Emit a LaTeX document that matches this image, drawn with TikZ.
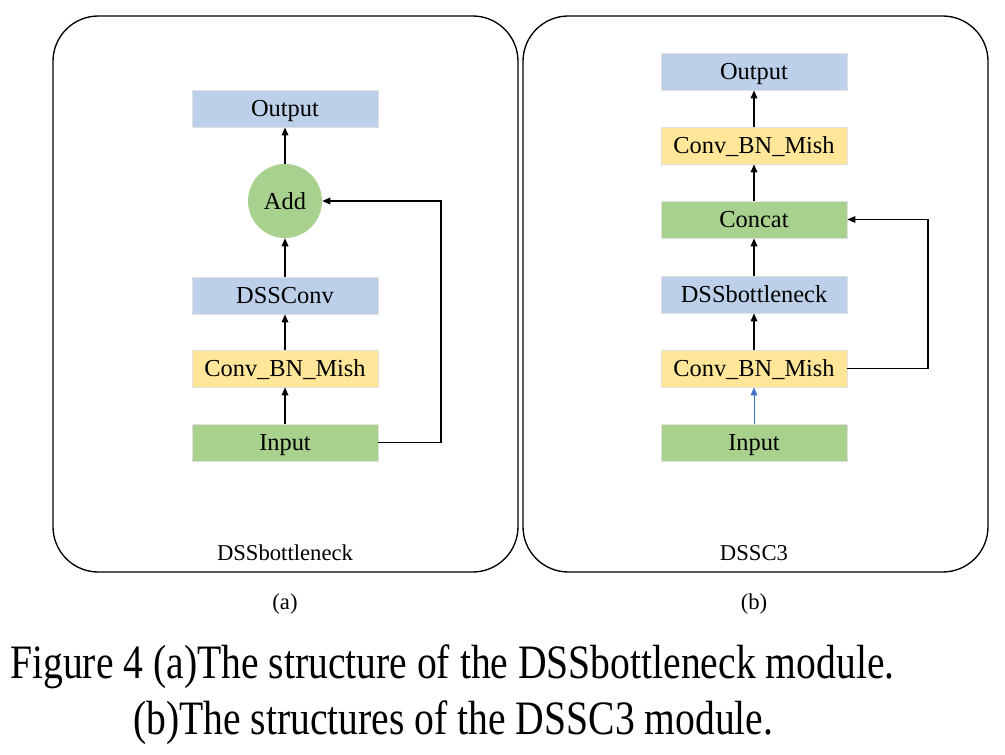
\documentclass[tikz,border=0pt]{standalone}
\usepackage{fontspec}
\setmainfont{Liberation Serif}
\usetikzlibrary{arrows.meta}
\definecolor{bxblue}{HTML}{BDD0EA}
\definecolor{bxyellow}{HTML}{FFE699}
\definecolor{bxgreen}{HTML}{A9D18E}
\definecolor{arblue}{HTML}{4472C4}
\tikzset{
  panel/.style={draw=black, line width=1pt, rounded corners=34pt},
  blk/.style={draw=black!12, line width=0.6pt, minimum width=139.5pt, minimum height=27.75pt, inner sep=0pt, text height=12.1pt, text depth=0pt, font=\fontsize{18.3}{20}\selectfont},
  blu/.style={blk, fill=bxblue},
  yel/.style={blk, fill=bxyellow},
  grn/.style={blk, fill=bxgreen},
  circ/.style={circle, fill=bxgreen, minimum size=55.5pt, inner sep=0pt, text height=12.1pt, text depth=0pt, font=\fontsize{18.3}{20}\selectfont},
  arr/.style={line width=0.9pt, -{Triangle[length=6pt,width=5pt]}},
  lbl/.style={font=\fontsize{17}{20}\selectfont, inner sep=0pt, text height=11.3pt, text depth=0pt},
  captxt/.style={font=\fontsize{36}{40}\selectfont, inner sep=0pt, anchor=base west}
}
\begin{document}
\begin{tikzpicture}[x=0.75pt,y=-0.75pt]
\useasboundingbox (0,0) rectangle (1005,755);
% panels
\draw[panel] (53,16) rectangle (518,572);
\draw[panel] (523,16) rectangle (988,572);
% left
\node[blu] (aout) at (285,108.5) {Output};
\node[circ] (aadd) at (285,201) {Add};
\node[blu] (adss) at (285,295.5) {DSSConv};
\node[yel] (acbm) at (285,368.5) {Conv\_BN\_Mish};
\node[grn] (ain) at (285,442.5) {Input};
\coordinate (ac1) at (441,442.5);
\coordinate (ac2) at (441,201);
\draw[arr] (ain) -- (acbm);
\draw[arr] (acbm) -- (adss);
\draw[arr] (adss) -- (aadd);
\draw[arr] (aadd) -- (aout);
\draw[arr] (ain.east) -- (ac1) -- (ac2) -- (aadd.east);
% right
\node[blu] (bout) at (754,71.5) {Output};
\node[yel] (bcbm2) at (754,145.5) {Conv\_BN\_Mish};
\node[grn] (bcat) at (754,219.5) {Concat};
\node[blu] (bdss) at (754,294.5) {DSSbottleneck};
\node[yel] (bcbm1) at (754,368.5) {Conv\_BN\_Mish};
\node[grn] (bin) at (754,442.5) {Input};
\coordinate (bc1) at (928,368.5);
\coordinate (bc2) at (928,219.5);
\draw[arr, draw=arblue, fill=arblue, line width=0.7pt] (bin) -- (bcbm1);
\draw[arr] (bcbm1) -- (bdss);
\draw[arr] (bdss) -- (bcat);
\draw[arr] (bcat) -- (bcbm2);
\draw[arr] (bcbm2) -- (bout);
\draw[arr] (bcbm1.east) -- (bc1) -- (bc2) -- (bcat.east);
% labels
\node[lbl] (la) at (285,553) {DSSbottleneck};
\node[lbl] (lb) at (754,553) {DSSC3};
\node[lbl] (sa) at (285,602) {(a)};
\node[lbl] (sb) at (754,602) {(b)};
\node[captxt] (c1) at (10,678) {\scalebox{0.825}[1]{Figure 4 (a)The structure of the DSSbottleneck module.}};
\node[captxt] (c2) at (133,734) {\scalebox{0.825}[1]{(b)The structures of the DSSC3 module.}};
\end{tikzpicture}
\end{document}
